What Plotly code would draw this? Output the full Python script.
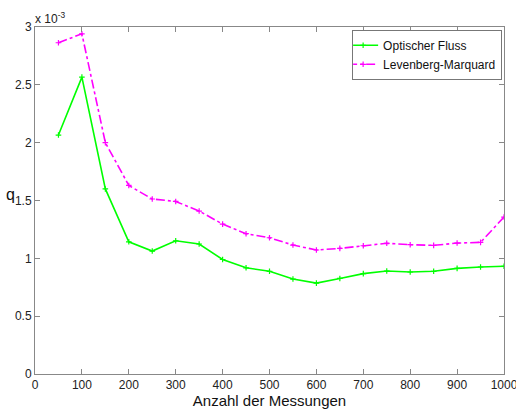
import plotly.graph_objects as go

n_meas = [50, 100, 150, 200, 250, 300, 350, 400, 450, 500, 550, 600, 650, 700, 750, 800, 850, 900, 950, 1000]
# values in units of 1e-3
optischer_fluss = [2.066, 2.567, 1.60, 1.143, 1.063, 1.152, 1.124, 0.99, 0.918, 0.888, 0.821, 0.786, 0.826, 0.868, 0.89, 0.882, 0.888, 0.913, 0.925, 0.931]
levenberg_marquard = [2.864, 2.941, 2.0, 1.63, 1.513, 1.492, 1.409, 1.296, 1.213, 1.178, 1.115, 1.072, 1.086, 1.109, 1.13, 1.118, 1.112, 1.132, 1.138, 1.357]

y_ticks = [0, 0.5, 1, 1.5, 2, 2.5, 3]
y_ticklabels = ["0", "0.5", "1", "1.5", "2", "2.5", "3"]
x_ticks = [0, 100, 200, 300, 400, 500, 600, 700, 800, 900, 1000]

font = "Liberation Sans, Arial, Helvetica, sans-serif"

fig = go.Figure()
fig.add_trace(go.Scatter(
    x=n_meas, y=optischer_fluss, name="Optischer Fluss", mode="lines+markers",
    line=dict(color="#00ff00", width=1.6),
    marker=dict(symbol="cross-thin", size=4, line=dict(color="#00ff00", width=1.2)),
))
fig.add_trace(go.Scatter(
    x=n_meas, y=levenberg_marquard, name="Levenberg-Marquard", mode="lines+markers",
    line=dict(color="#ff00ff", width=1.6, dash="dashdot"),
    marker=dict(symbol="cross-thin", size=4, line=dict(color="#ff00ff", width=1.2)),
))

axis_common = dict(
    showgrid=False, zeroline=False, showline=True, linecolor="#888888", linewidth=1,
    mirror="ticks", ticks="inside", ticklen=5, tickcolor="#888888", automargin=False,
    tickfont=dict(family=font, size=12, color="#222222"), ticklabeloverflow="allow",
)

fig.update_layout(
    width=516, height=409,
    margin=dict(l=35, r=12, t=27, b=35),
    paper_bgcolor="white", plot_bgcolor="white",
    font=dict(family=font, color="#111111"),
    xaxis=dict(range=[0, 1000], tickvals=x_ticks, **axis_common,
               title=dict(text="Anzahl der Messungen", font=dict(family=font, size=15), standoff=3)),
    yaxis=dict(range=[0, 3], tickvals=y_ticks, ticktext=y_ticklabels, ticklabelstandoff=0, **axis_common),
    legend=dict(x=0.996, y=0.992, xanchor="right", yanchor="top",
                bordercolor="#777777", borderwidth=1, bgcolor="white",
                font=dict(family=font, size=12, color="#111111"),
                tracegroupgap=0, itemwidth=30, indentation=-10),
    showlegend=True,
)

fig.add_annotation(text="x 10<sup>-3</sup>", xref="paper", yref="paper", x=0.0, y=1.0,
                   xanchor="left", yanchor="bottom", showarrow=False,
                   font=dict(family=font, size=12, color="#222222"), xshift=-2, yshift=-1)
fig.add_annotation(text="q", xref="paper", yref="paper", x=0, y=0.5,
                   xanchor="center", yanchor="middle", showarrow=False,
                   font=dict(family=font, size=16, color="#111111"), xshift=-25, yshift=6)

fig.write_html("out.html")
